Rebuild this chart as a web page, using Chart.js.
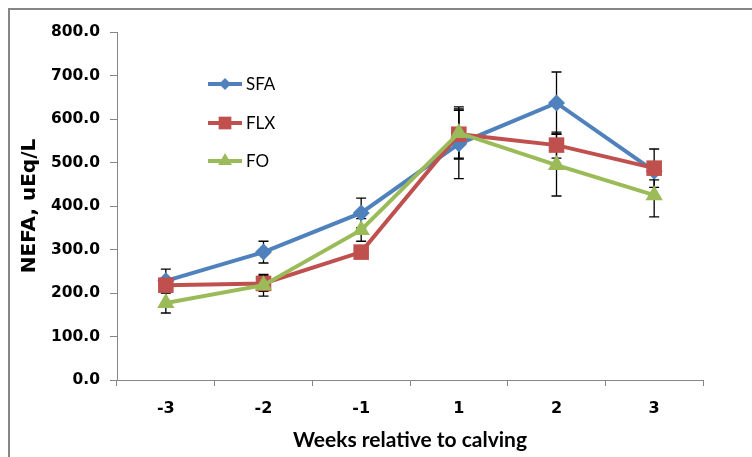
<!DOCTYPE html>
<html>
<head>
<meta charset="utf-8">
<script src="https://cdn.jsdelivr.net/npm/chart.js@4"></script>
<style>
  html, body { margin: 0; padding: 0; background: #fff; }
  #wrap { width: 752px; height: 457px; position: relative; }
</style>
</head>
<body>
<div id="wrap"><canvas id="nefa" width="752" height="457"></canvas></div>
<script>
const weeks = ['-3', '-2', '-1', '1', '2', '3'];
const sfa = [228, 294, 384, 543, 637, 480];
const flx = [218, 222, 294, 565, 540, 487];
const fo = [177, 218, 345, 568, 494, 425];
const sfaErr = [27, 25, 34, 80, 71, 20];
const flxErr = [15, 18, 12, 55, 30, 44];
const foErr = [23, 25, 26, 60, 71, 50];

const blue = '#4F81BD';
const red = '#C0504D';
const green = '#9BBB59';

const errs = [sfaErr, flxErr, foErr];

// error bars drawn under the markers
const errorBars = {
  id: 'errorBars',
  beforeDatasetsDraw(chart) {
    const c = chart.ctx;
    const y = chart.scales.y;
    c.save();
    c.strokeStyle = '#000';
    c.lineWidth = 1.3;
    chart.data.datasets.forEach((ds, i) => {
      const meta = chart.getDatasetMeta(i);
      meta.data.forEach((pt, j) => {
        const v = ds.data[j], e = errs[i][j];
        const top = y.getPixelForValue(v + e);
        const bot = y.getPixelForValue(v - e);
        c.beginPath();
        c.moveTo(pt.x, top); c.lineTo(pt.x, bot);
        c.moveTo(pt.x - 5, top); c.lineTo(pt.x + 5, top);
        c.moveTo(pt.x - 5, bot); c.lineTo(pt.x + 5, bot);
        c.stroke();
      });
    });
    c.restore();
  }
};

// frame + legend inside plot
const extras = {
  id: 'extras',
  afterDraw(chart) {
    const c = chart.ctx;
    c.save();
    c.strokeStyle = '#868686';
    c.lineWidth = 2;
    c.beginPath();
    c.moveTo(9, 457); c.lineTo(9, 9); c.lineTo(752, 9);
    c.stroke();

    const rows = [
      { label: 'SFA', color: blue, style: 'rectRot', r: 6, y: 84 },
      { label: 'FLX', color: red, style: 'rect', r: 9, y: 123 },
      { label: 'FO', color: green, style: 'triangle', r: 8, y: 161 }
    ];
    rows.forEach(row => {
      c.strokeStyle = row.color;
      c.lineWidth = 4;
      c.beginPath();
      c.moveTo(208, row.y); c.lineTo(242, row.y);
      c.stroke();
      c.fillStyle = row.color;
      Chart.helpers.drawPoint(c, { pointStyle: row.style, radius: row.r, borderWidth: 0 }, 225, row.y);
      c.fillStyle = '#000';
      c.font = '17px Lato';
      c.textBaseline = 'middle';
      c.fillText(row.label, 246, row.y + 1);
    });
    c.restore();
  }
};

new Chart(document.getElementById('nefa'), {
  type: 'line',
  data: {
    labels: weeks,
    datasets: [
      { label: 'SFA', data: sfa, borderColor: blue, backgroundColor: blue, pointStyle: 'rectRot', pointRadius: 8.5, order: 2 },
      { label: 'FLX', data: flx, borderColor: red, backgroundColor: red, pointStyle: 'rect', pointRadius: 11, order: 1 },
      { label: 'FO', data: fo, borderColor: green, backgroundColor: green, pointStyle: 'triangle', pointRadius: 10, order: 0 }
    ]
  },
  options: {
    responsive: false,
    animation: false,
    layout: { padding: { left: 12, top: 32, right: 49, bottom: 0 } },
    elements: {
      line: { borderWidth: 4, tension: 0 },
      point: { borderWidth: 0, hoverRadius: 9 }
    },
    plugins: { legend: { display: false }, tooltip: { enabled: false } },
    scales: {
      x: {
        offset: true,
        afterFit(s) { s.height = 77; },
        border: { color: '#868686', width: 1 },
        grid: { drawOnChartArea: false, drawTicks: true, tickLength: 6, color: '#868686', offset: true },
        ticks: { color: '#000', font: { family: 'DejaVu Sans', weight: 'bold', size: 16 }, padding: 13 },
        title: { display: true, text: 'Weeks relative to calving', color: '#000', font: { family: 'Lato', weight: 'bold', size: 21 }, padding: { top: 4 } }
      },
      y: {
        min: 0,
        max: 800,
        afterFit(s) { s.width = 105; },
        border: { color: '#868686', width: 1 },
        grid: { drawOnChartArea: false, drawTicks: true, tickLength: 7, color: '#868686' },
        ticks: {
          stepSize: 100,
          color: '#000',
          padding: 10,
          font: { family: 'DejaVu Sans', weight: 'bold', size: 15.5 },
          callback: v => v.toFixed(1)
        },
        title: { display: true, text: 'NEFA, uEq/L', color: '#000', font: { family: 'DejaVu Sans', weight: 'bold', size: 20 }, padding: { top: 6, bottom: 4 } }
      }
    }
  },
  plugins: [errorBars, extras]
});
</script>
</body>
</html>
